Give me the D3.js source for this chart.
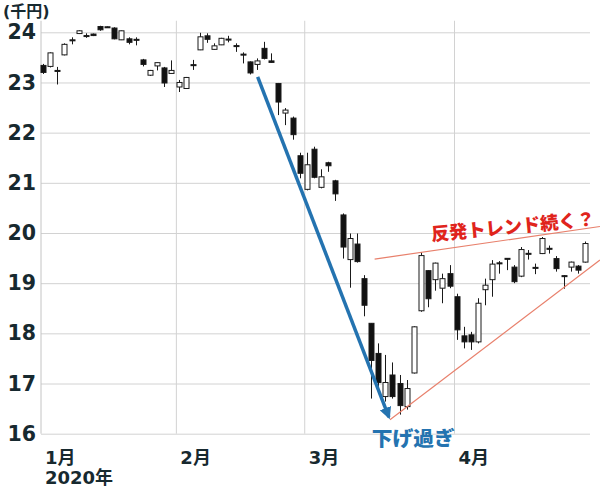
<!DOCTYPE html>
<html>
<head>
<meta charset="utf-8">
<script src="https://cdn.jsdelivr.net/npm/d3@7"></script>
<style>
  html, body { margin: 0; padding: 0; background: #fff; }
  svg { display: block; }
</style>
</head>
<body>
<svg id="chart" width="600" height="488"></svg>
<script>
// ---- data (Nikkei 225, yen) ----
const dates = ["1/6","1/7","1/8","1/9","1/10","1/14","1/15","1/16","1/17","1/20","1/21","1/22","1/23","1/24","1/27","1/28","1/29","1/30","1/31",
  "2/3","2/4","2/5","2/6","2/7","2/10","2/12","2/13","2/14","2/17","2/18","2/19","2/20","2/21","2/25","2/26","2/27","2/28",
  "3/2","3/3","3/4","3/5","3/6","3/9","3/10","3/11","3/12","3/13","3/16","3/17","3/18","3/19","3/23","3/24","3/25","3/26","3/27","3/30","3/31",
  "4/1","4/2","4/3","4/6","4/7","4/8","4/9","4/10","4/13","4/14","4/15","4/16","4/17","4/20","4/21","4/22","4/23","4/24","4/27"];
const opens = [23340,23320,23240,23550,23850,23975,23935,23965,24115,24110,24085,23850,23870,23860,23450,23145,23330,23290,23180,
  22910,22880,23355,23650,23930,23660,23750,23865,23735,23565,23410,23360,23680,23430,22980,22390,22290,21540,
  20870,21670,20910,21400,21040,20360,19470,19780,19090,18200,17600,16740,17170,17000,16540,17210,18450,19250,19070,18900,19190,
  18730,17950,17970,17830,18870,19070,19405,19495,19320,19140,19595,19315,19590,19695,19490,19150,19320,19340,19420];
const highs = [23370,23600,23310,23780,23900,24040,23980,23975,24130,24115,24100,24035,23900,23900,23470,23250,23400,23310,23440,
  23050,23110,23450,23990,23980,23780,23890,23930,23780,23600,23420,23480,23810,23580,22990,22490,22320,21600,
  21600,21720,21270,21420,21060,20390,19990,19990,19160,18200,17800,17570,17420,17170,17070,18140,19620,19260,19410,19190,19360,
  18790,18130,18030,18700,19090,19460,19440,19500,19360,19720,19660,19390,19920,19750,19540,19160,19430,19360,19830];
const lows = [23170,23300,22960,23540,23760,23965,23890,23925,24030,24095,23860,23845,23760,23740,23320,23130,23240,22910,23175,
  22810,22870,23250,23645,23790,23655,23745,23800,23610,23380,23160,23250,23460,23395,22350,22150,21860,21090,
  20850,21090,20890,21220,20640,19490,18910,19410,18340,16700,16900,16640,16700,16380,16480,17200,18430,18520,18850,18600,18900,
  17870,17700,17670,17800,18560,18730,19190,19260,19000,19120,19470,19180,19580,19590,19230,18890,19230,19190,19410];
const closes = [23200,23590,23225,23760,23840,24030,23925,23935,24050,24100,23870,24030,23800,23850,23360,23240,23395,22990,23240,
  23000,23100,23345,23910,23860,23730,23880,23855,23725,23555,23190,23430,23480,23400,22610,22450,21960,21190,
  21360,21110,21120,21340,20780,19720,19890,19430,18560,17460,17020,17020,16740,16560,16900,18130,19550,18690,19400,19090,18940,
  18070,17830,17830,18600,18960,19380,19395,19485,19030,19670,19585,19305,19890,19685,19290,19140,19420,19260,19790];

const yTicks = [16000,17000,18000,19000,20000,21000,22000,23000,24000];
const monthLabels = ["1月","2月","3月","4月"];
const monthStarts = ["1/6","2/3","3/2","4/1"];
const yearLabel = "2020年";
const unitLabel = "(千円)";

// annotations in data space: [index position, price]
const downTrend = [[30.1, 23110], [48.5, 16330]];
const upperTrend = [[46.5, 19480], [78.1, 20130]];
const lowerTrend = [[48.65, 16280], [78.1, 19460]];
const reboundText = "反発トレンド続く？";
const reboundAt = [54.5, 19960];
const oversoldText = "下げ過ぎ";
const oversoldAt = [46.1, 15750];

// ---- drawing ----
const svg = d3.select("#chart");
const x = d3.scaleLinear().domain([0, dates.length - 1]).range([43, 585]);
const y = d3.scaleLinear().domain([16000, 24000]).range([433.7, 32.3]);
const plotLeft = 41, plotRight = 590;
const dark = "#17292f";
const numFont = "'DejaVu Sans', 'Noto Sans CJK JP', sans-serif";

// horizontal gridlines + labels via axis
const yAxis = d3.axisLeft(y).tickValues(yTicks).tickSize(-(plotRight - plotLeft)).tickPadding(5)
  .tickFormat(d => d / 1000);
const gy = svg.append("g").attr("transform", `translate(${plotLeft},0)`).call(yAxis);
gy.select(".domain").remove();
gy.selectAll(".tick line").attr("stroke", "#d2d2d2").attr("stroke-width", 1);
gy.selectAll(".tick text").attr("fill", dark).attr("font-family", numFont)
  .attr("font-weight", "bold").attr("font-size", 20.5);

// vertical month lines (first is the left axis)
const idx = d => dates.indexOf(d);
const monthX = monthStarts.map((d, i) => i === 0 ? plotLeft : x(idx(d) - 0.3));
svg.append("g").selectAll("line").data(monthX).join("line")
  .attr("x1", d => d).attr("x2", d => d)
  .attr("y1", y(24230)).attr("y2", y(16000))
  .attr("stroke", d => d === plotLeft ? "#c4c4c4" : "#d2d2d2").attr("stroke-width", 1);

// month labels
svg.append("g").selectAll("text").data(monthLabels).join("text")
  .attr("x", (d, i) => monthX[i] + 4).attr("y", 464)
  .attr("fill", dark).attr("font-family", numFont).attr("font-weight", "bold").attr("font-size", 18)
  .text(d => d);
svg.append("text").attr("x", monthX[0] + 4).attr("y", 484)
  .attr("fill", dark).attr("font-family", numFont).attr("font-weight", "bold").attr("font-size", 18)
  .text(yearLabel);
svg.append("text").attr("x", 3).attr("y", 17)
  .attr("fill", dark).attr("font-family", numFont).attr("font-weight", "bold").attr("font-size", 16)
  .text(unitLabel);

// candles
const candles = dates.map((d, i) => ({ i, o: opens[i], h: highs[i], l: lows[i], c: closes[i] }));
const cg = svg.append("g");
const bw = 5;
cg.selectAll("line.wick").data(candles).join("line").attr("class", "wick")
  .attr("x1", d => Math.round(x(d.i)) + 0.5).attr("x2", d => Math.round(x(d.i)) + 0.5)
  .attr("y1", d => y(d.h)).attr("y2", d => y(d.l))
  .attr("stroke", "#1a1a1a").attr("stroke-width", 1);
cg.selectAll("rect.body").data(candles).join("rect").attr("class", "body")
  .attr("x", d => Math.round(x(d.i)) + 0.5 - bw / 2)
  .attr("y", d => y(Math.max(d.o, d.c)))
  .attr("width", bw)
  .attr("height", d => Math.max(1, Math.abs(y(d.o) - y(d.c))))
  .attr("fill", d => d.c >= d.o ? "#ffffff" : "#111111")
  .attr("stroke", "#1a1a1a").attr("stroke-width", 1);

// red trend lines
const line = d3.line().x(d => x(d[0])).y(d => y(d[1]));
svg.append("path").attr("d", line(upperTrend)).attr("fill", "none").attr("stroke", "#e8806c").attr("stroke-width", 1.2);
svg.append("path").attr("d", line(lowerTrend)).attr("fill", "none").attr("stroke", "#e8806c").attr("stroke-width", 1.2);

// blue down arrow
const defs = svg.append("defs");
defs.append("marker").attr("id", "arr").attr("viewBox", "0 0 10 10").attr("refX", 8).attr("refY", 5)
  .attr("markerWidth", 3.4).attr("markerHeight", 3.4).attr("orient", "auto")
  .append("path").attr("d", "M0,0 L10,5 L0,10 Z").attr("fill", "#2473b0");
svg.append("path").attr("d", line(downTrend)).attr("fill", "none")
  .attr("stroke", "#2473b0").attr("stroke-width", 3.5).attr("marker-end", "url(#arr)");

// annotations text
const rx = x(reboundAt[0]), ry = y(reboundAt[1]) + 6;
svg.append("text").attr("x", rx).attr("y", ry)
  .attr("transform", `rotate(-5.5, ${rx}, ${ry})`)
  .attr("fill", "#e0241c").attr("font-family", "'Noto Sans CJK JP', sans-serif").attr("font-weight", 900)
  .attr("font-size", 18.3)
  .text(reboundText);
svg.append("text").attr("x", x(oversoldAt[0])).attr("y", y(oversoldAt[1]))
  .attr("fill", "#2473b0").attr("font-family", "'Noto Sans CJK JP', sans-serif").attr("font-weight", 900)
  .attr("font-size", 20).attr("textLength", 83).attr("lengthAdjust", "spacingAndGlyphs")
  .text(oversoldText);
</script>
</body>
</html>
